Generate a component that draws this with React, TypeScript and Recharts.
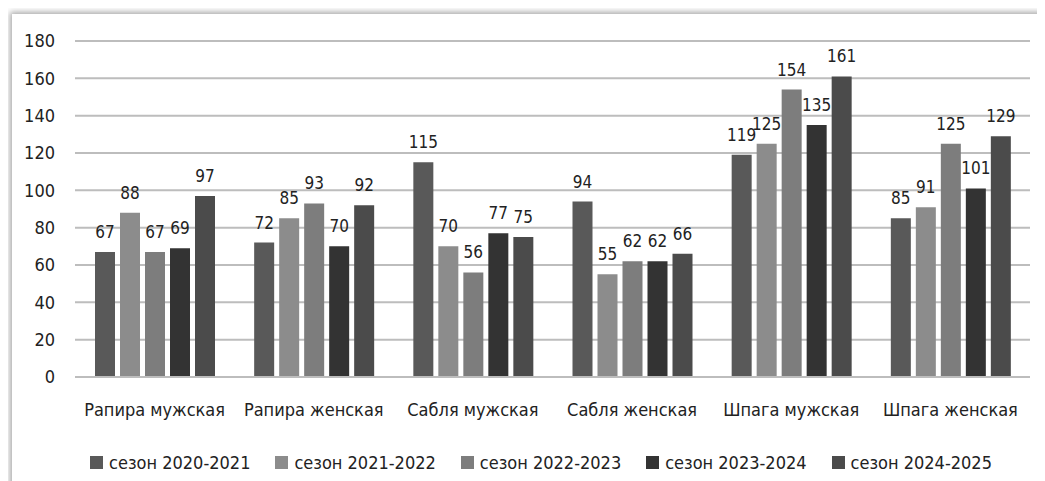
import { BarChart, Bar, XAxis, YAxis, CartesianGrid, LabelList, Legend } from "recharts"

const categories = ["Рапира мужская", "Рапира женская", "Сабля мужская", "Сабля женская", "Шпага мужская", "Шпага женская"]
const seasons = ["сезон 2020-2021", "сезон 2021-2022", "сезон 2022-2023", "сезон 2023-2024", "сезон 2024-2025"]
const s2020 = [67, 72, 115, 94, 119, 85]
const s2021 = [88, 85, 70, 55, 125, 91]
const s2022 = [67, 93, 56, 62, 154, 125]
const s2023 = [69, 70, 77, 62, 135, 101]
const s2024 = [97, 92, 75, 66, 161, 129]
const yTicks = [0, 20, 40, 60, 80, 100, 120, 140, 160, 180]

const colors = ["#595959", "#8c8c8c", "#7d7d7d", "#333333", "#4b4b4b"]
const font = "'Liberation Sans Narrow', 'DejaVu Sans Condensed', sans-serif"

const seriesValues = [s2020, s2021, s2022, s2023, s2024]
const data = categories.map((name, i) => {
    const row: Record<string, string | number> = { name }
    seasons.forEach((s, j) => { row[s] = seriesValues[j][i] })
    return row
})

const LegendBox = () => (
    <div style={{ display: "flex", justifyContent: "center", gap: 25, paddingLeft: 40, fontFamily: font, fontSize: 18, color: "#222" }}>
        {seasons.map((s, i) => (
            <div key={s} style={{ display: "flex", alignItems: "center", gap: 6 }}>
                <span style={{ width: 13, height: 13, background: colors[i], display: "inline-block" }} />
                <span>{s}</span>
            </div>
        ))}
    </div>
)

const App = () => {
    return (
        <div style={{ position: "relative", width: 1037, height: 473 }}>
            <div style={{ position: "absolute", left: 4, top: 6, width: 1040, height: 480, background: "#fff", boxShadow: "-2px -2px 6px rgba(0,0,0,0.35)" }}>
                <BarChart width={1033} height={467} data={data} margin={{ top: 27, right: 15, left: 0, bottom: 8 }} barSize={20} barGap={5}>
                    <CartesianGrid vertical={false} stroke="#bdbdbd" strokeWidth={2} />
                    <XAxis dataKey="name" tickLine={false} axisLine={{ stroke: "#bdbdbd", strokeWidth: 2 }} height={75} tickMargin={20}
                        tick={{ fontFamily: font, fontSize: 18, fill: "#222" }} />
                    <YAxis domain={[0, 180]} ticks={yTicks} tickLine={false} axisLine={false} width={63} tickSize={0} tickMargin={20}
                        tick={{ fontFamily: font, fontSize: 18, fill: "#222" }} />
                    <Legend verticalAlign="bottom" content={<LegendBox />} />
                    {seasons.map((s, i) => (
                        <Bar key={s} dataKey={s} fill={colors[i]} isAnimationActive={false}>
                            <LabelList dataKey={s} position="top" offset={14} style={{ fontFamily: font, fontSize: 17, fill: "#222" }} />
                        </Bar>
                    ))}
                </BarChart>
            </div>
        </div>
    )
}

export default App
